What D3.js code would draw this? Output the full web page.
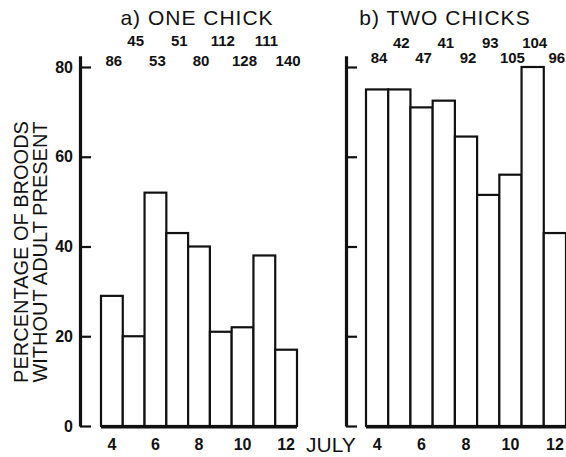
<!DOCTYPE html>
<html>
<head>
<meta charset="utf-8">
<script src="https://cdn.jsdelivr.net/npm/d3@7"></script>
<style>
  body { margin: 0; background: #fff; }
  text { font-family: "Liberation Sans", Arial, sans-serif; fill: #111; }
</style>
</head>
<body>
<div id="chart"></div>
<script>
const width = 566
const height = 457

// data
const days = [4, 5, 6, 7, 8, 9, 10, 11, 12]
const oneChick = [29, 20, 52, 43, 40, 21, 22, 38, 17]
const oneChickN = [86, 45, 53, 51, 80, 112, 128, 111, 140]
const twoChicks = [75, 75, 71, 72.5, 64.5, 51.5, 56, 80, 43]
const twoChicksN = [84, 42, 47, 41, 92, 93, 105, 104, 96]
const yTicks = [0, 20, 40, 60, 80]
const xTicks = [4, 6, 8, 10, 12]

const svg = d3.select('#chart')
  .append('svg')
  .attr('width', width)
  .attr('height', height)

const y = d3.scaleLinear()
  .domain([0, 82.5])
  .range([426, 426 - 82.5 * 4.4875])

function panel(opts) {
  const x = d3.scaleBand()
    .domain(days)
    .range(opts.range)
    .paddingInner(0)
    .paddingOuter(0)

  const g = svg.append('g')

  // y axis, ticks pointing inward
  const axis = d3.axisLeft(y)
    .tickValues(yTicks)
    .tickSizeInner(-11)
    .tickSizeOuter(0)
    .tickPadding(7)
    .tickFormat(opts.labels ? d3.format('d') : '')

  const ax = g.append('g')
    .attr('transform', `translate(${opts.axisX},0)`)
    .call(axis)
  ax.select('.domain').attr('stroke', '#111').attr('stroke-width', 3.2)
  ax.selectAll('.tick line').attr('stroke', '#111').attr('stroke-width', 2.2)
  ax.selectAll('.tick text')
    .style('font-size', '16px')
    .style('font-weight', 'bold')
    .attr('fill', '#111')
  ax.attr('font-family', null).attr('font-size', null)

  // bars
  g.selectAll('rect.bar')
    .data(opts.values)
    .enter()
    .append('rect')
    .attr('class', 'bar')
    .attr('x', (d, i) => x(days[i]))
    .attr('y', d => y(d))
    .attr('width', x.bandwidth())
    .attr('height', d => y(0) - y(d))
    .attr('fill', 'white')
    .attr('stroke', '#111')
    .attr('stroke-width', 2.2)

  // baseline under bars
  g.append('line')
    .attr('x1', opts.range[0])
    .attr('x2', opts.range[1])
    .attr('y1', y(0) + 1)
    .attr('y2', y(0) + 1)
    .attr('stroke', '#111')
    .attr('stroke-width', 3)

  // sample sizes, alternating rows
  g.selectAll('text.n')
    .data(opts.counts)
    .enter()
    .append('text')
    .attr('class', 'n')
    .attr('x', (d, i) => x(days[i]) + x.bandwidth() / 2 + 2)
    .attr('y', (d, i) => i % 2 ? opts.rowTop : opts.rowBottom)
    .attr('text-anchor', 'middle')
    .style('font-size', '15px')
    .style('font-weight', 'bold')
    .text(d => d)

  // x tick labels
  g.selectAll('text.day')
    .data(xTicks)
    .enter()
    .append('text')
    .attr('class', 'day')
    .attr('x', d => x(d) + x.bandwidth() / 2)
    .attr('y', 450)
    .attr('text-anchor', 'middle')
    .style('font-size', '16px')
    .style('font-weight', 'bold')
    .text(d => d)

  // title
  g.append('text')
    .attr('x', opts.titleX)
    .attr('y', 25)
    .attr('text-anchor', 'middle')
    .style('font-size', '21px')
    .style('letter-spacing', '1px')
    .text(opts.title)
}

panel({
  range: [101, 297],
  axisX: 80,
  labels: true,
  values: oneChick,
  counts: oneChickN,
  rowTop: 46,
  rowBottom: 66,
  title: 'a) ONE CHICK',
  titleX: 197
})

panel({
  range: [366, 566],
  axisX: 346,
  labels: false,
  values: twoChicks,
  counts: twoChicksN,
  rowTop: 48,
  rowBottom: 63,
  title: 'b) TWO CHICKS',
  titleX: 445
})

// y axis title
svg.append('text')
  .attr('transform', 'translate(28,252) rotate(-90)')
  .attr('text-anchor', 'middle')
  .style('font-size', '20px')
  .text('PERCENTAGE OF BROODS')

svg.append('text')
  .attr('transform', 'translate(47,252) rotate(-90)')
  .attr('text-anchor', 'middle')
  .style('font-size', '20px')
  .text('WITHOUT ADULT PRESENT')

svg.append('text')
  .attr('x', 306)
  .attr('y', 452)
  .style('font-size', '21px')
  .text('JULY')
</script>
</body>
</html>
